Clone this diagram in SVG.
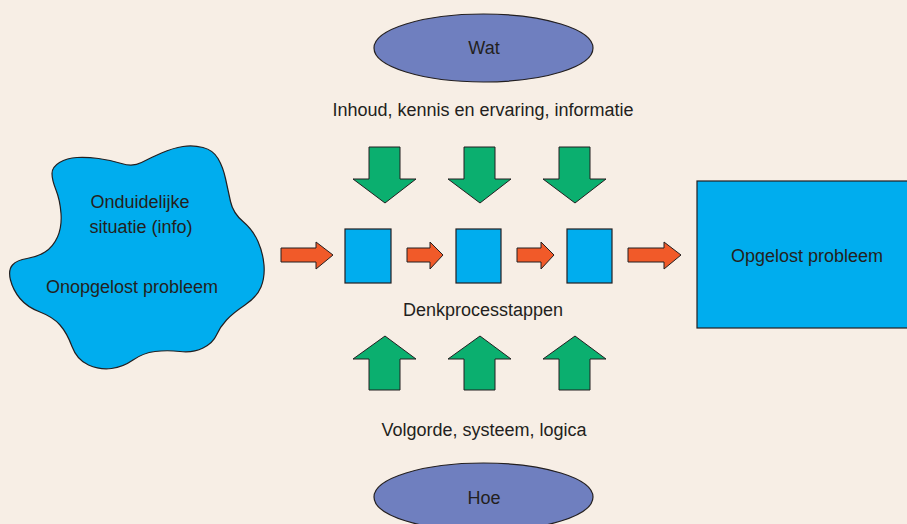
<svg xmlns="http://www.w3.org/2000/svg" width="907" height="524" viewBox="0 0 907 524">
<style>
  .bg{fill:#F7EEE5}
  .blue{fill:#00ADEE;stroke:#231F20;stroke-width:1.2}
  .ell{fill:#6F7FBF;stroke:#231F20;stroke-width:1.2}
  .green{fill:#0BAF6F;stroke:#231F20;stroke-width:1}
  .red{fill:#F15A29;stroke:#231F20;stroke-width:1}
  text{font-family:"Liberation Sans",Arial,sans-serif;font-size:18px;fill:#231F20;text-anchor:middle}
</style>
<defs>
  <polygon id="down" points="-16,0 15,0 15,32 31,32 0,56 -32,32 -16,32"/>
  <polygon id="up" points="-16,54 15,54 15,23 31,23 0,0 -32,23 -16,23"/>
</defs>
<rect class="bg" x="0" y="0" width="907" height="524"/>

<g id="cloud">
  <path class="blue" d="M52,173.5 Q52,167 59.5,162.5 Q67,158 77,157.5 Q87,157 98.5,158.5 Q110,160 121.5,163.5 Q133,167 141.5,162.5 Q150,158 161.5,153 Q173,148 183,146.5 Q193,145 203,147.5 Q213,150 218,158.5 Q223,167 225.5,178.5 Q228,190 230.5,201.5 Q233,213 243,221.5 Q253,230 258,241.5 Q263,253 264,265 Q265,277 261,287 Q257,297 245,305 Q233,313 226.5,320 Q220,327 216.5,335 Q213,343 203,348 Q193,353 180,351.5 Q167,350 155,351.5 Q143,353 133,360 Q123,367 111.5,368.5 Q100,370 88.5,365 Q77,360 72,346.5 Q67,333 60,325 Q53,317 40,312 Q27,307 20,298.5 Q13,290 10.5,280 Q8,270 12.5,265 Q17,260 27,258.5 Q37,257 45,252 Q53,247 57.5,237 Q62,227 61,213.5 Q60,200 56,190 Q52,180 52,173.5 Z"/>
  <text x="140" y="208">Onduidelijke</text>
  <text x="141" y="233">situatie (info)</text>
  <text x="132" y="293">Onopgelost probleem</text>
</g>

<g id="wat">
  <ellipse class="ell" cx="483.5" cy="48" rx="109.5" ry="34"/>
  <text x="484" y="54">Wat</text>
</g>
<g id="inhoud">
  <text x="483" y="116">Inhoud, kennis en ervaring, informatie</text>
</g>

<g id="step1"><rect class="blue" x="345" y="229" width="46" height="54"/></g>
<g id="step2"><rect class="blue" x="456" y="229" width="45" height="54"/></g>
<g id="step3"><rect class="blue" x="567" y="229" width="45" height="54"/></g>
<g id="denk"><text x="483" y="316">Denkprocesstappen</text></g>

<g id="volgorde"><text x="484" y="436">Volgorde, systeem, logica</text></g>
<g id="hoe">
  <ellipse class="ell" cx="483.5" cy="497" rx="109.5" ry="34"/>
  <text x="484" y="504">Hoe</text>
</g>

<g id="opgelost">
  <rect class="blue" x="697" y="181" width="215" height="147"/>
  <text x="807" y="262">Opgelost probleem</text>
</g>

<g id="connectors">
  <use href="#down" class="green" x="385" y="147"/>
  <use href="#down" class="green" x="480" y="147"/>
  <use href="#down" class="green" x="575" y="147"/>
  <use href="#up" class="green" x="385" y="336"/>
  <use href="#up" class="green" x="480" y="336"/>
  <use href="#up" class="green" x="575" y="336"/>
  <polygon class="red" points="281,248 316,248 316,242 333,255 316,269 316,262 281,262"/>
  <polygon class="red" points="407,248 430,248 430,242 443,255 430,269 430,262 407,262"/>
  <polygon class="red" points="517,248 541,248 541,242 554,255 541,269 541,262 517,262"/>
  <polygon class="red" points="628,248 664,248 664,242 681,255 664,269 664,262 628,262"/>
</g>
</svg>
